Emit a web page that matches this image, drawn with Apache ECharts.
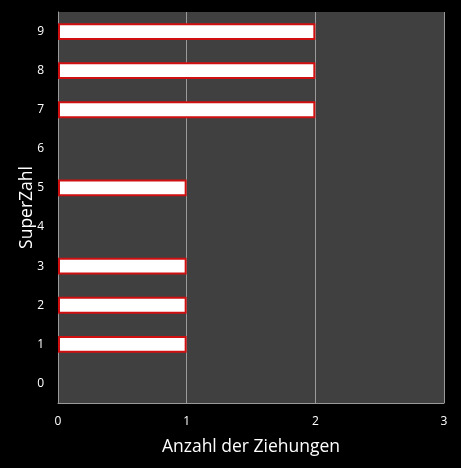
<!DOCTYPE html>
<html>
<head>
<meta charset="utf-8">
<script src="https://cdn.jsdelivr.net/npm/echarts@6/dist/echarts.min.js"></script>
<style>
  html, body { margin: 0; padding: 0; background: #000; }
  #chart { width: 461px; height: 468px; }
</style>
</head>
<body>
<div id="chart"></div>
<script>
const superZahlen = ['0', '1', '2', '3', '4', '5', '6', '7', '8', '9']
const ziehungen = [0, 1, 1, 1, 0, 1, 0, 2, 2, 2]

const myChart = echarts.init(document.getElementById('chart'))
const option = {
  backgroundColor: '#000',
  textStyle: { fontFamily: 'Open Sans' },
  grid: {
    left: 58,
    right: 17,
    top: 12,
    bottom: 65,
    show: true,
    backgroundColor: '#404040',
    borderWidth: 0
  },
  xAxis: {
    type: 'value',
    min: 0,
    max: 3,
    interval: 1,
    name: 'Anzahl der Ziehungen',
    nameLocation: 'middle',
    nameGap: 35,
    nameMoveOverlap: false,
    nameTextStyle: { color: '#fff', fontSize: 17.5 },
    axisLine: { show: true, lineStyle: { color: '#9a9a9a', width: 1 } },
    axisTick: { show: false },
    axisLabel: { color: '#fff', fontSize: 12, margin: 13 },
    splitLine: { show: true, lineStyle: { color: '#9a9a9a', width: 1 } }
  },
  yAxis: {
    type: 'category',
    data: superZahlen,
    name: 'SuperZahl',
    nameLocation: 'middle',
    nameGap: 22,
    nameMoveOverlap: false,
    nameTextStyle: { color: '#fff', fontSize: 17.5 },
    axisLine: { show: true, lineStyle: { color: '#9a9a9a', width: 1 } },
    axisTick: { show: false },
    axisLabel: { color: '#fff', fontSize: 12, margin: 14 },
    splitLine: { show: false }
  },
  series: [
    {
      type: 'bar',
      // zero counts draw no bar at all
      data: ziehungen.map(v => (v === 0 ? '-' : v)),
      barWidth: '43%',
      itemStyle: {
        color: '#fff',
        borderColor: '#d01010',
        borderWidth: 2
      },
      silent: true
    }
  ]
}
myChart.setOption(option)
</script>
</body>
</html>
